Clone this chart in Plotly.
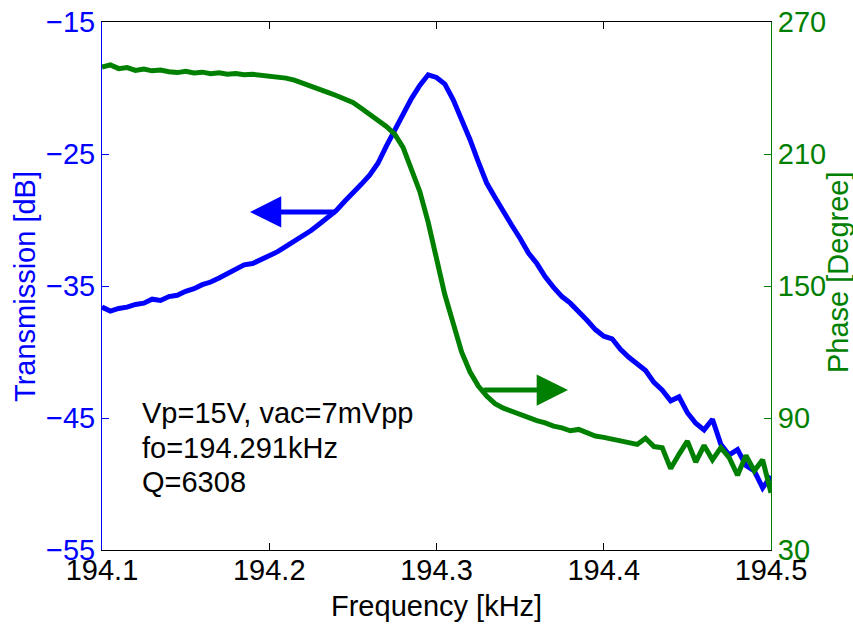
import plotly.graph_objects as go

# ---------------- data ----------------
freq_khz = [
    194.100, 194.105, 194.110, 194.115, 194.120, 194.125, 194.130, 194.135, 194.140, 194.145,
    194.150, 194.155, 194.160, 194.165, 194.170, 194.175, 194.180, 194.185, 194.190, 194.195,
    194.200, 194.205, 194.210, 194.215, 194.220, 194.225, 194.230, 194.235, 194.240, 194.245,
    194.250, 194.255, 194.260, 194.265, 194.270, 194.275, 194.280, 194.285, 194.290, 194.295,
    194.300, 194.305, 194.310, 194.315, 194.320, 194.325, 194.330, 194.335, 194.340, 194.345,
    194.350, 194.355, 194.360, 194.365, 194.370, 194.375, 194.380, 194.385, 194.390, 194.395,
    194.400, 194.405, 194.410, 194.415, 194.420, 194.425, 194.430, 194.435, 194.440, 194.445,
    194.450, 194.455, 194.460, 194.465, 194.470, 194.475, 194.480, 194.485, 194.490, 194.495,
    194.500,
]

transmission_db = [
    -36.6, -36.9, -36.7, -36.6, -36.4, -36.3, -36.0, -36.1, -35.8, -35.7,
    -35.4, -35.2, -34.9, -34.7, -34.4, -34.1, -33.8, -33.4, -33.3, -33.0,
    -32.8, -32.4, -32.0, -31.6, -31.3, -30.8, -30.3, -29.8, -29.3, -28.6,
    -28.0, -27.3, -26.6, -25.7, -24.4, -23.2, -21.9, -20.8, -19.8, -19.0,
    -19.2, -19.7, -20.9, -22.3, -23.9, -25.6, -27.2, -28.3, -29.4, -30.4,
    -31.4, -32.5, -33.3, -34.3, -35.1, -35.8, -36.3, -36.9, -37.6, -38.3,
    -38.8, -39.0, -39.8, -40.4, -40.9, -41.4, -42.3, -42.9, -43.7, -43.4,
    -44.6, -45.4, -45.9, -45.1, -47.0, -47.8, -47.4, -48.6, -49.0, -50.3,
    -49.4,
]

phase_deg = [
    249.5, 250.5, 248.8, 249.3, 248.0, 248.6, 247.8, 248.2, 247.4, 247.0,
    247.6, 246.8, 247.2, 246.5, 246.9, 246.3, 246.6, 246.0, 246.2, 245.8,
    245.6, 245.0, 244.5, 243.6, 242.3, 241.2, 239.6, 238.0, 236.6, 235.2,
    233.4, 230.8, 228.0, 225.5, 222.5, 219.0, 213.0, 203.0, 193.0, 179.0,
    162.0, 146.0, 133.0, 120.0, 111.0, 104.5, 100.0, 96.5, 94.5, 93.0,
    91.5, 89.8, 88.8, 87.8, 86.3, 85.5, 84.2, 84.8, 83.0, 81.8,
    81.2, 80.5, 79.8, 78.6, 78.0, 80.8, 77.0, 76.5, 67.0, 73.5,
    79.5, 70.0, 77.5, 71.0, 76.5, 72.0, 64.0, 73.0, 66.0, 71.0,
    56.0,
]

x_ticks = [194.1, 194.2, 194.3, 194.4, 194.5]
x_ticklabels = ["194.1", "194.2", "194.3", "194.4", "194.5"]
y1_ticks = [-55, -45, -35, -25, -15]
y2_ticks = [30, 90, 150, 210, 270]

info_lines = ["Vp=15V, vac=7mVpp", "fo=194.291kHz", "Q=6308"]

# ---------------- style ----------------
BLUE = "#0000FF"
GREEN = "#008000"
FONT = "Liberation Sans, Arial, Helvetica, sans-serif"
FS = 29

fig = go.Figure()
fig.add_trace(go.Scatter(x=freq_khz, y=transmission_db, mode="lines",
                         line=dict(color=BLUE, width=5), yaxis="y", name="Transmission"))
fig.add_trace(go.Scatter(x=freq_khz, y=phase_deg, mode="lines",
                         line=dict(color=GREEN, width=5), yaxis="y2", name="Phase"))

fig.update_layout(
    template="none",
    width=853, height=624,
    margin=dict(l=102, r=82, t=22, b=74),
    paper_bgcolor="white", plot_bgcolor="white",
    showlegend=False,
    font=dict(family=FONT, size=FS, color="black"),
    xaxis=dict(
        range=[194.1, 194.5], tickvals=x_ticks, ticktext=x_ticklabels,
        ticks="inside", ticklen=7, tickwidth=1, tickcolor="black",
        showline=True, linecolor="black", linewidth=1, mirror="ticks",
        showgrid=False, zeroline=False, ticklabelstandoff=-6,
        tickfont=dict(size=FS, color="black"), automargin=False,
    ),
    yaxis=dict(
        range=[-55, -15], tickvals=y1_ticks,
        ticks="inside", ticklen=7, tickwidth=1, tickcolor=BLUE,
        showline=True, linecolor=BLUE, linewidth=1,
        showgrid=False, zeroline=False,
        tickfont=dict(size=FS, color=BLUE), automargin=False,
    ),
    yaxis2=dict(
        range=[30, 270], tickvals=y2_ticks, overlaying="y", side="right",
        ticks="inside", ticklen=7, tickwidth=1, tickcolor=GREEN,
        showline=True, linecolor=GREEN, linewidth=1,
        showgrid=False, zeroline=False,
        tickfont=dict(size=FS, color=GREEN), automargin=False,
    ),
)

annotations = [
    # axis titles
    dict(text="Frequency [kHz]", xref="paper", yref="paper", x=0.5, y=-0.1061,
         xanchor="center", yanchor="middle", showarrow=False,
         font=dict(size=FS, color="black")),
    dict(text="Transmission [dB]", xref="paper", yref="paper", x=-0.1151, y=0.5,
         xanchor="center", yanchor="middle", showarrow=False, textangle=-90,
         font=dict(size=FS, color=BLUE)),
    dict(text="Phase [Degree]", xref="paper", yref="paper", x=1.1001, y=0.5265,
         xanchor="center", yanchor="middle", showarrow=False, textangle=-90,
         font=dict(size=FS, color=GREEN)),
    # arrows
    dict(x=194.1885, y=-29.39, xref="x", yref="y", ax=194.2405, ay=-29.39,
         axref="x", ayref="y", text="", showarrow=True, arrowhead=2,
         arrowsize=1.25, arrowwidth=5, arrowcolor=BLUE, standoff=0),
    dict(x=194.3786, y=102.7, xref="x", yref="y2", ax=194.3272, ay=102.7,
         axref="x", ayref="y2", text="", showarrow=True, arrowhead=2,
         arrowsize=1.25, arrowwidth=5, arrowcolor=GREEN, standoff=0),
]
for line, ypos in zip(info_lines, [0.2595, 0.193, 0.129]):
    annotations.append(dict(text=line, xref="paper", yref="paper", x=0.0568, y=ypos,
                            xanchor="left", yanchor="middle", showarrow=False,
                            font=dict(size=FS, color="black")))
fig.update_layout(annotations=annotations)

fig.write_html("out.html")
